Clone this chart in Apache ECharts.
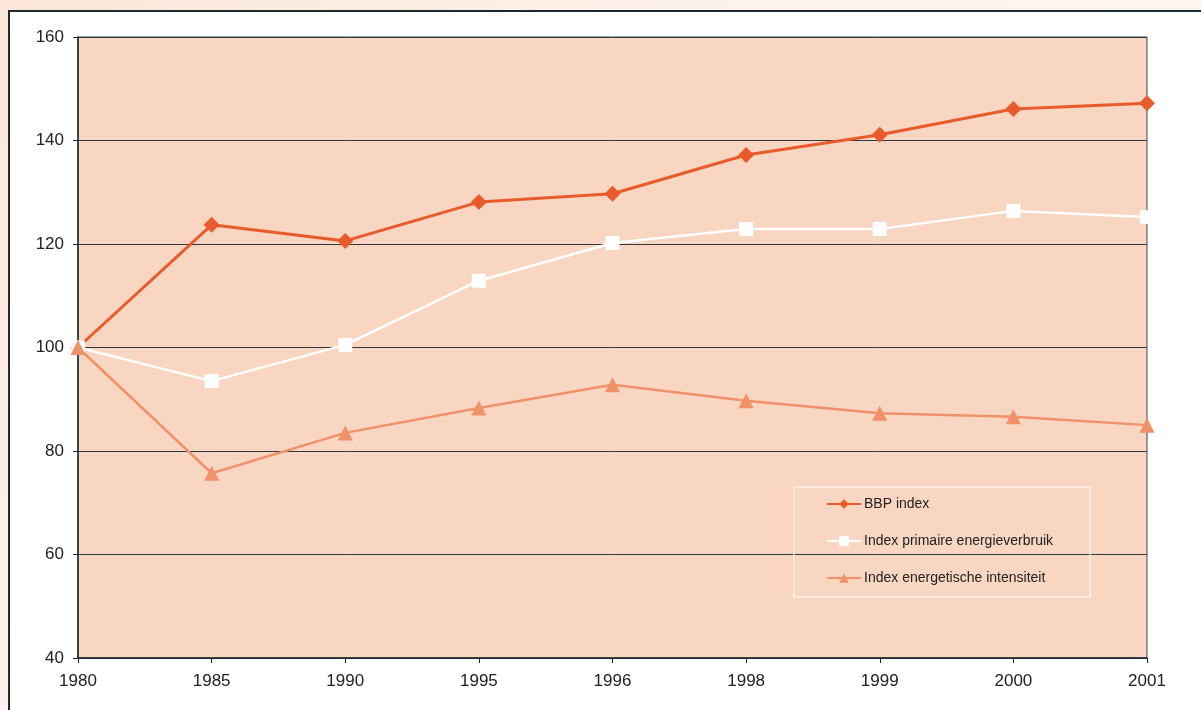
<!DOCTYPE html>
<html>
<head>
<meta charset="utf-8">
<script src="https://cdn.jsdelivr.net/npm/echarts@6/dist/echarts.min.js"></script>
<style>
html,body{margin:0;padding:0;width:1201px;height:710px;overflow:hidden;
background:linear-gradient(135deg,#fbe6d8 0%,#fdf3ec 40%,#fffaf6 100%);}
#frame{position:absolute;left:8px;top:10px;width:1200px;height:710px;background:#fff;border-left:2px solid #1c2a30;border-top:2px solid #1c2a30;box-sizing:border-box;}
#chart{position:absolute;left:0;top:0;width:1201px;height:710px;}
</style>
</head>
<body>
<div id="frame"></div>
<div id="chart"></div>
<script>
const categories = ['1980','1985','1990','1995','1996','1998','1999','2000','2001'];
const bbpIndex = [100, 123.7, 120.6, 128.1, 129.7, 137.2, 141.1, 146.1, 147.2];
const energieverbruik = [100, 93.5, 100.5, 112.9, 120.2, 122.9, 122.9, 126.4, 125.2];
const intensiteit = [100, 75.7, 83.5, 88.3, 92.8, 89.7, 87.3, 86.6, 85.0];
const seriesNames = ['BBP index', 'Index primaire energieverbruik', 'Index energetische intensiteit'];

const chart = echarts.init(document.getElementById('chart'), null, {renderer:'canvas'});
const font = 'Arial, "Liberation Sans", sans-serif';
chart.setOption({
  animation:false,
  backgroundColor:'transparent',
  grid:{left:78,right:54,top:37,bottom:52,show:true,backgroundColor:'#f9d6c1',borderColor:'#3d474c',borderWidth:1,containLabel:false},
  legend:{
    orient:'vertical',left:794,top:487,
    padding:[10,37,12,32],
    borderColor:'#ffffff',borderWidth:1,
    itemWidth:34,itemHeight:12,itemGap:23,
    textStyle:{fontFamily:font,fontSize:14,color:'#222',padding:[0,0,0,-2]},
    data:seriesNames
  },
  xAxis:{
    type:'category',data:categories,boundaryGap:false,
    axisLine:{lineStyle:{color:'#1c2a30',width:1.5}},
    axisTick:{show:true,length:5,lineStyle:{color:'#1c2a30'}},
    axisLabel:{fontFamily:font,fontSize:17,color:'#222',margin:15},
    splitLine:{show:false}
  },
  yAxis:{
    type:'value',min:40,max:160,interval:20,
    axisLine:{show:true,lineStyle:{color:'#1c2a30',width:1.5}},
    axisTick:{show:true,length:5,lineStyle:{color:'#1c2a30'}},
    axisLabel:{fontFamily:font,fontSize:17,color:'#222',margin:14},
    splitLine:{show:true,lineStyle:{color:'#2e3a40',width:1}}
  },
  series:[
    {name:seriesNames[0],type:'line',data:bbpIndex,symbol:'diamond',symbolSize:16,
     lineStyle:{color:'#e95b2b',width:3},itemStyle:{color:'#e95b2b'},z:2},
    {name:seriesNames[1],type:'line',data:energieverbruik,symbol:'rect',symbolSize:14,
     lineStyle:{color:'#ffffff',width:2.5},itemStyle:{color:'#ffffff'},z:3},
    {name:seriesNames[2],type:'line',data:intensiteit,symbol:'triangle',symbolSize:15,
     lineStyle:{color:'#f0916a',width:2.5},itemStyle:{color:'#f0916a'},z:4}
  ]
});
</script>
</body>
</html>
